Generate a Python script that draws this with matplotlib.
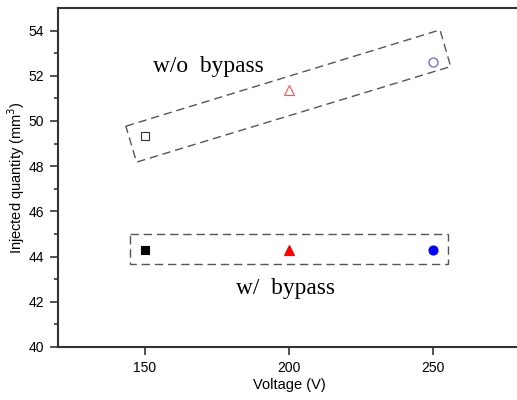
import matplotlib
matplotlib.use("Agg")
import matplotlib.pyplot as plt
from matplotlib.patches import Polygon

voltage = [150, 200, 250]
without_bypass = [49.32, 51.38, 52.63]
with_bypass = [44.31, 44.31, 44.31]
markers = ["s", "^", "o"]
colors = ["black", "red", "blue"]
open_colors = ["#333333", "#ff5050", "#5050ff"]
marker_sizes = [5.5, 7.5, 6.5]

xticks = [150, 200, 250]
yticks = [40, 42, 44, 46, 48, 50, 52, 54]

# annotation boxes (data coords)
box_wo = [(143.5, 49.77), (252.3, 54.03), (256.0, 52.41), (147.2, 48.18)]
box_w = [(145, 45.0), (255, 45.0), (255, 43.67), (145, 43.67)]

fig = plt.figure(figsize=(5.17, 4.00), dpi=100)
ax = fig.add_axes([58/517, 1-347/400, 462/517, 339/400])

for x, y, m, c, ms in zip(voltage, without_bypass, markers, open_colors, marker_sizes):
    ax.plot(x, y, marker=m, ms=ms, mfc="none", mec=c, mew=0.8, ls="none")
for x, y, m, c, ms in zip(voltage, with_bypass, markers, colors, marker_sizes):
    ax.plot(x, y, marker=m, ms=ms, mfc=c, mec=c, mew=0.8, ls="none")

for pts in (box_wo, box_w):
    ax.add_patch(Polygon(pts, closed=True, fill=False, ec="#555555",
                         lw=1.0, ls=(0, (6, 3.5))))

serif = ["Liberation Serif", "DejaVu Serif"]
ax.text(152.9, 52.4, "w/o  bypass", family=serif, fontsize=16.8, va="center", ha="left")
ax.text(181.8, 42.6, "w/  bypass", family=serif, fontsize=16.8, va="center", ha="left")

ax.set_xlim(120, 280)
ax.set_ylim(40, 55)
ax.set_xticks(xticks)
ax.set_yticks(yticks)
ax.set_yticks(range(41, 55, 2), minor=True)

sans = ["Liberation Sans", "DejaVu Sans"]
ax.set_xlabel("Voltage (V)", family=sans, fontsize=10.5, labelpad=2)
ax.set_ylabel("Injected quantity (mm$^3$)", family=sans, fontsize=10.5, labelpad=1)
for lbl in ax.get_xticklabels() + ax.get_yticklabels():
    lbl.set_family(sans)
    lbl.set_fontsize(10)

ax.spines["right"].set_visible(False)
for s in ("left", "bottom", "top"):
    ax.spines[s].set_color("#333333")
    ax.spines[s].set_linewidth(1.5)
ax.tick_params(which="major", direction="out", length=6, width=1.2, color="#333333", pad=4)
ax.tick_params(which="minor", direction="out", length=3, width=1.2, color="#333333")
ax.tick_params(axis="x", which="minor", bottom=False)

fig.savefig("out.png", dpi=100)
